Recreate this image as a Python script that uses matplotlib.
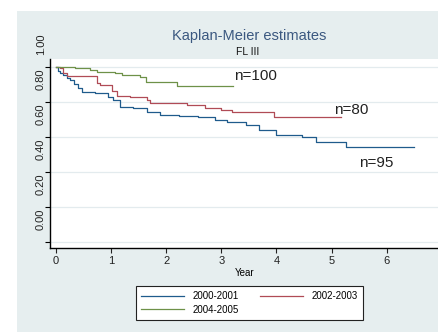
import matplotlib
matplotlib.use("Agg")
import matplotlib.pyplot as plt
import matplotlib.transforms as mtransforms
from matplotlib.patches import Rectangle

plt.rcParams['font.family'] = ['Liberation Sans', 'DejaVu Sans']

# Kaplan-Meier step curves (time in years, survival)
t_0001 = [0, 0.04, 0.08, 0.13, 0.2, 0.25, 0.33, 0.4, 0.47, 0.7, 0.94, 1.03, 1.16, 1.39,
          1.65, 1.88, 2.24, 2.57, 2.88, 3.11, 3.45, 3.69, 4.0, 4.47, 4.72, 5.26, 6.49]
s_0001 = [1.0, 0.977, 0.966, 0.954, 0.94, 0.926, 0.903, 0.88, 0.857, 0.851, 0.829, 0.811,
          0.771, 0.766, 0.743, 0.726, 0.72, 0.714, 0.697, 0.686, 0.669, 0.64, 0.611, 0.60,
          0.571, 0.543, 0.543]

t_0203 = [0, 0.07, 0.13, 0.2, 0.74, 0.8, 1.01, 1.1, 1.34, 1.65, 1.7, 2.38, 2.7, 3.0, 3.2,
          3.96, 5.17]
s_0203 = [1.0, 0.994, 0.966, 0.949, 0.909, 0.897, 0.863, 0.834, 0.829, 0.811, 0.794, 0.783,
          0.766, 0.754, 0.743, 0.714, 0.714]

t_0405 = [0, 0.34, 0.49, 0.61, 0.74, 1.07, 1.19, 1.52, 1.63, 2.2, 3.22]
s_0405 = [1.0, 0.997, 0.994, 0.983, 0.971, 0.966, 0.954, 0.943, 0.914, 0.891, 0.891]

series_labels = ["2000-2001", "2002-2003", "2004-2005"]
n_labels = ["n=95", "n=80", "n=100"]
yticks = [0.0, 0.2, 0.4, 0.6, 0.8, 1.0]
ytick_labels = ["0.00", "0.20", "0.40", "0.60", "0.80", "1.00"]
xticks = [0, 1, 2, 3, 4, 5, 6]

bg = '#e6eeef'
col_blue = '#1f5b8c'
col_red = '#b04b56'
col_green = '#6e9148'

fig = plt.figure(figsize=(4.39, 3.32), dpi=100)
fig.patch.set_facecolor('white')
# grey graph region (white margin on top and left)
fig.patches.append(Rectangle((17 / 439, 0), 1, 1 - 11 / 332, transform=fig.transFigure,
                             facecolor=bg, edgecolor='none', zorder=-5))

ax = fig.add_axes([50 / 439, 1 - 248 / 332, 1 - 50 / 439, (248 - 59) / 332])
ax.set_zorder(1)
ax.set_facecolor('white')
ax.set_xlim(-0.108, 6.95)
ax.set_ylim(-0.034, 1.046)

for y in yticks:
    ax.axhline(y, color='#e3ebee', lw=0.9, zorder=1)

l1, = ax.step(t_0001, s_0001, where='post', color=col_blue, lw=0.9, zorder=3)
l2, = ax.step(t_0203, s_0203, where='post', color=col_red, lw=0.9, zorder=3)
l3, = ax.step(t_0405, s_0405, where='post', color=col_green, lw=0.9, zorder=3)

ax.text(5.5, 0.45, n_labels[0], fontsize=11, va='center', color='#222222')
ax.text(5.05, 0.755, n_labels[1], fontsize=11, va='center', color='#222222')
ax.text(3.24, 0.949, n_labels[2], fontsize=11, va='center', color='#222222')

for s in ['top', 'right']:
    ax.spines[s].set_visible(False)
ax.spines['left'].set_linewidth(1.0)
ax.spines['bottom'].set_linewidth(1.0)

ax.set_xticks(xticks)
ax.set_xticklabels([str(x) for x in xticks], fontsize=8)
ax.tick_params(axis='x', length=3.5, width=0.8, pad=2.5, colors='#222222')
ax.set_xlabel("Year", fontsize=7, labelpad=1.5)

# y labels are drawn shifted upward relative to their ticks, as in the original
ax.set_yticks(yticks)
ax.set_yticklabels([])
ax.tick_params(axis='y', length=3.5, width=0.8)
shift = mtransforms.ScaledTranslation(0, 23 / 100, fig.dpi_scale_trans)
for y, lab in zip(yticks, ytick_labels):
    ax.text(-9 / 390, y, lab, rotation=90, fontsize=8, ha='center', va='center',
            color='#222222', transform=ax.get_yaxis_transform() + shift, clip_on=False)

fig.text(249.5 / 439, 1 - 36 / 332, "Kaplan-Meier estimates", fontsize=10.5,
         color='#3b5880', ha='center', va='center')
fig.text(248 / 439, 1 - 52 / 332, "FL III", fontsize=7.5, color='#111111',
         ha='center', va='center')

leg = fig.legend([l1, l3, l2], [series_labels[0], series_labels[2], series_labels[1]],
                 ncol=2, loc='center', bbox_to_anchor=(249.5 / 439, 1 - 303 / 332),
                 fontsize=7, frameon=True, fancybox=False, framealpha=1, handlelength=4.4,
                 columnspacing=2.2, handletextpad=0.9, borderpad=0.55, labelspacing=0.35)
leg.get_frame().set_edgecolor('#222222')
leg.get_frame().set_linewidth(0.8)
for h in leg.get_lines():
    h.set_linewidth(0.9)

fig.savefig("out.png", dpi=100)
